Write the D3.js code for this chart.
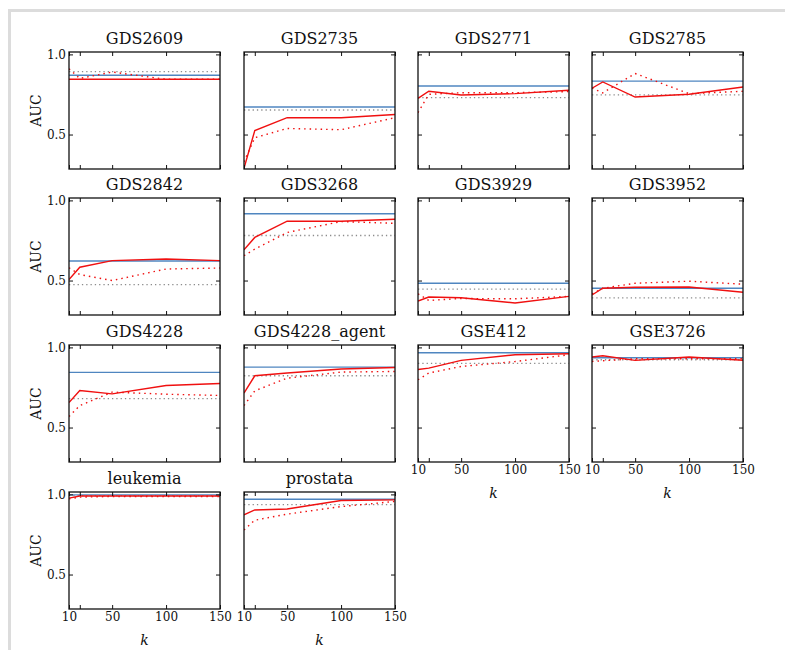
<!DOCTYPE html>
<html>
<head>
<meta charset="utf-8">
<script src="https://cdn.jsdelivr.net/npm/d3@7"></script>
<style>
body { margin: 0; background: #fff; }
svg { display: block; }
text { font-family: "DejaVu Serif", serif; fill: #111; }
</style>
</head>
<body>
<svg width="785" height="650"></svg>
<script>
// datasets, one panel each
var datasets = ['GDS2609','GDS2735','GDS2771','GDS2785','GDS2842','GDS3268','GDS3929','GDS3952',
	'GDS4228','GDS4228_agent','GSE412','GSE3726','leukemia','prostata'];
var kValues = [10, 20, 50, 100, 150];
var kTicks = [10, 20, 50, 100, 150];
var kLabels = ['10', '', '50', '100', '150'];
var aucTicks = [0.5, 1.0];

// red solid line
var solidAUC = [
	[0.845, 0.845, 0.845, 0.845, 0.845],
	[0.29, 0.525, 0.605, 0.605, 0.625],
	[0.726, 0.77, 0.747, 0.755, 0.776],
	[0.789, 0.828, 0.734, 0.751, 0.797],
	[0.506, 0.583, 0.624, 0.634, 0.624],
	[0.692, 0.769, 0.87, 0.87, 0.882],
	[0.372, 0.397, 0.393, 0.36, 0.401],
	[0.41, 0.452, 0.458, 0.46, 0.427],
	[0.656, 0.731, 0.71, 0.762, 0.775],
	[0.715, 0.823, 0.84, 0.865, 0.875],
	[0.862, 0.871, 0.919, 0.954, 0.96],
	[0.94, 0.948, 0.919, 0.94, 0.92],
	[0.977, 0.99, 0.99, 0.99, 0.99],
	[0.873, 0.903, 0.909, 0.962, 0.966]
];
// red dotted line
var dottedAUC = [
	[0.91, 0.85, 0.89, 0.845, 0.845],
	[0.33, 0.48, 0.538, 0.53, 0.605],
	[0.636, 0.751, 0.761, 0.761, 0.768],
	[0.79, 0.76, 0.881, 0.755, 0.77],
	[0.58, 0.537, 0.5, 0.572, 0.578],
	[0.655, 0.696, 0.8, 0.868, 0.857],
	[0.417, 0.376, 0.388, 0.386, 0.401],
	[0.417, 0.452, 0.483, 0.496, 0.477],
	[0.569, 0.637, 0.721, 0.708, 0.7],
	[0.637, 0.729, 0.808, 0.846, 0.85],
	[0.798, 0.84, 0.881, 0.912, 0.954],
	[0.912, 0.917, 0.929, 0.929, 0.929],
	[0.972, 0.983, 0.987, 0.987, 0.987],
	[0.778, 0.839, 0.877, 0.924, 0.956]
];
// horizontal references
var blueAUC = [0.87, 0.672, 0.803, 0.833, 0.622, 0.917, 0.483, 0.452, 0.844, 0.877, 0.967, 0.935, 0.997, 0.97];
var grayAUC = [0.893, 0.653, 0.73, 0.747, 0.475, 0.781, 0.446, 0.392, 0.681, 0.823, 0.9, 0.923, 0.993, 0.936];

var svg = d3.select('svg');
var panelW = 151, panelH = 117;
var colX = [69, 244, 418, 592];
var rowY = [52, 198, 345, 492];

// page frame
svg.append('rect').attr('x', 8).attr('y', 9).attr('width', 3).attr('height', 641).style('fill', '#dcdcdc');
svg.append('rect').attr('x', 8).attr('y', 9).attr('width', 777).attr('height', 3).style('fill', '#dcdcdc');

var x = d3.scaleLinear().domain([10, 150]).range([0, panelW]);
var y = d3.scaleLinear().domain([0.285, 1.015]).range([panelH, 0]);

var line = d3.line().x((d, i) => x(kValues[i])).y(d => y(d));

datasets.forEach(function(name, i){
	var col = i % 4, row = Math.floor(i / 4);
	var g = svg.append('g').attr('transform', 'translate(' + colX[col] + ',' + rowY[row] + ')');
	var bottomRow = (i + 4 >= datasets.length);

	g.append('text').attr('x', panelW / 2).attr('y', -8).attr('text-anchor', 'middle')
		.style('font-size', '16px').text(name);

	var clip = 'clip' + i;
	g.append('clipPath').attr('id', clip).append('rect').attr('width', panelW).attr('height', panelH);
	var plot = g.append('g').attr('clip-path', 'url(#' + clip + ')');

	plot.append('line').attr('x1', 0).attr('x2', panelW).attr('y1', y(grayAUC[i])).attr('y2', y(grayAUC[i]))
		.style('stroke', '#8c8c8c').style('stroke-width', 1.3).style('stroke-dasharray', '1.3,3');
	plot.append('line').attr('x1', 0).attr('x2', panelW).attr('y1', y(blueAUC[i])).attr('y2', y(blueAUC[i]))
		.style('stroke', '#4f86c0').style('stroke-width', 1.4);
	plot.append('path').attr('d', line(dottedAUC[i])).style('fill', 'none')
		.style('stroke', '#f01010').style('stroke-width', 1.4).style('stroke-dasharray', '1.5,4');
	plot.append('path').attr('d', line(solidAUC[i])).style('fill', 'none')
		.style('stroke', '#f01010').style('stroke-width', 1.4);

	// inward ticks on all four sides
	var ax = [
		d3.axisBottom(x).tickValues(kTicks).tickSize(-4).tickFormat((d, j) => bottomRow ? kLabels[j] : ''),
		d3.axisTop(x).tickValues(kTicks).tickSize(-4).tickFormat(''),
		d3.axisLeft(y).tickValues(aucTicks).tickSize(-4).tickFormat(d => col === 0 ? d3.format('.1f')(d) : ''),
		d3.axisRight(y).tickValues(aucTicks).tickSize(-4).tickFormat('')
	];
	var pos = ['translate(0,' + panelH + ')', 'translate(0,0)', 'translate(0,0)', 'translate(' + panelW + ',0)'];
	ax.forEach(function(a, j){
		var ag = g.append('g').attr('transform', pos[j]).call(a);
		ag.select('.domain').remove();
		ag.selectAll('line').style('stroke', '#111').style('stroke-width', 1);
		ag.selectAll('text').style('font-family', '"DejaVu Serif", serif').style('font-size', '12px').style('fill', '#111');
	});

	g.append('rect').attr('width', panelW).attr('height', panelH)
		.style('fill', 'none').style('stroke', '#111').style('stroke-width', 1.3);

	if(col === 0){
		g.append('text').attr('transform', 'translate(' + (-33) + ',' + (panelH / 2) + ') rotate(-90)')
			.attr('text-anchor', 'middle').attr('dy', '0.35em').style('font-size', '14px').text('AUC');
	}
	if(bottomRow){
		g.append('text').attr('x', panelW / 2).attr('y', panelH + 36).attr('text-anchor', 'middle')
			.style('font-size', '14px').style('font-style', 'italic').text('k');
	}
});
</script>
</body>
</html>
